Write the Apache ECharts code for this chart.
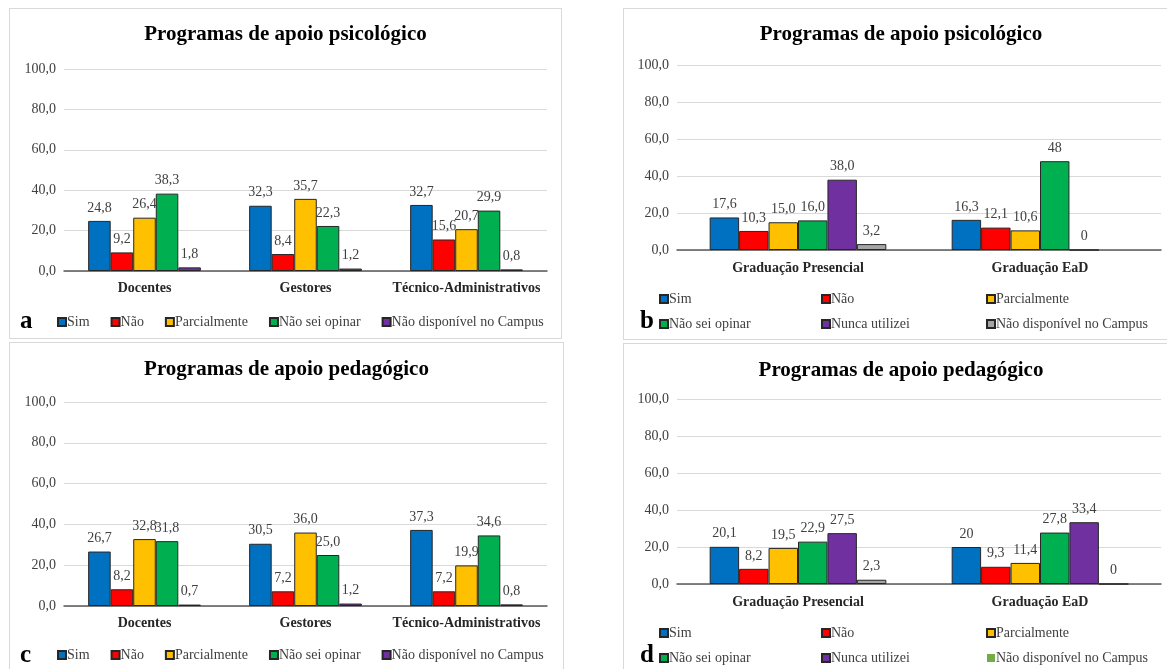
<!DOCTYPE html>
<html>
<head>
<meta charset="utf-8">
<script src="https://cdn.jsdelivr.net/npm/echarts@6/dist/echarts.min.js"></script>
<style>
  html, body { margin: 0; padding: 0; background: #fff; overflow: hidden; width: 1167px; height: 669px; }
  .panel { position: absolute; border: 1px solid #d9d9d9; box-sizing: border-box; background: #fff; }
</style>
</head>
<body>
<div id="pa" class="panel" style="left:9px;top:8px;width:553px;height:331px"></div>
<div id="pb" class="panel" style="left:623px;top:8px;width:556px;height:332px"></div>
<div id="pc" class="panel" style="left:9px;top:342px;width:555px;height:340px"></div>
<div id="pd" class="panel" style="left:623px;top:343px;width:556px;height:340px"></div>
<script>
const FONT = '"Liberation Serif", "Times New Roman", serif'

// categorias
const staffCats = ['Docentes', 'Gestores', 'Técnico-Administrativos']
const courseCats = ['Graduação Presencial', 'Graduação EaD']
const yTicks = [0, 20, 40, 60, 80, 100]

// a - apoio psicológico (servidores)
const aSim = ['24.8', '32.3', '32.7']
const aNao = ['9.2', '8.4', '15.6']
const aParc = ['26.4', '35.7', '20.7']
const aNso = ['38.3', '22.3', '29.9']
const aNdisp = ['1.8', '1.2', '0.8']

// b - apoio psicológico (alunos)
const bSim = ['17.6', '16.3']
const bNao = ['10.3', '12.1']
const bParc = ['15.0', '10.6']
const bNso = ['16.0', '48']
const bNunca = ['38.0', '0']
const bNdisp = ['3.2', '-']

// c - apoio pedagógico (servidores)
const cSim = ['26.7', '30.5', '37.3']
const cNao = ['8.2', '7.2', '7.2']
const cParc = ['32.8', '36.0', '19.9']
const cNso = ['31.8', '25.0', '34.6']
const cNdisp = ['0.7', '1.2', '0.8']

// d - apoio pedagógico (alunos)
const dSim = ['20.1', '20']
const dNao = ['8.2', '9.3']
const dParc = ['19.5', '11.4']
const dNso = ['22.9', '27.8']
const dNunca = ['27.5', '33.4']
const dNdisp = ['2.3', '0']

const BLUE = '#0070C0', RED = '#FF0000', YELLOW = '#FFC000', GREEN = '#00B050'
const PURPLE = '#7030A0', GREY = '#A5A5A5', LIGHTGREEN = '#70AD47'

function barSeries(name, values, color, gap, override) {
  return {
    name,
    type: 'bar',
    barGap: 0,
    barCategoryGap: gap,
    data: override
      ? values.map(v => ({ value: v, itemStyle: override }))
      : values,
    itemStyle: { color, borderColor: '#262626', borderWidth: override ? 0 : 1 },
    label: {
      show: true,
      position: 'top',
      distance: 6,
      fontFamily: FONT,
      fontSize: 14,
      color: '#404040',
      formatter: p => {
        const raw = (p.data && typeof p.data === 'object') ? p.data.value : p.data
        return String(raw).replace('.', ',')
      }
    }
  }
}

function buildChart(id, cfg) {
  const chart = echarts.init(document.getElementById(id))
  chart.setOption({
    animation: false,
    title: {
      text: cfg.title,
      left: 'center',
      top: cfg.titleTop,
      textStyle: { fontFamily: FONT, fontSize: 21, fontWeight: 'bold', color: '#000' }
    },
    legend: cfg.legend,
    grid: cfg.grid,
    xAxis: {
      type: 'category',
      data: cfg.cats,
      axisLine: { lineStyle: { color: '#595959', width: 1.5 } },
      axisTick: { show: false },
      axisLabel: { interval: 0, fontFamily: FONT, fontSize: 14, fontWeight: 'bold', color: '#262626', margin: cfg.xMargin }
    },
    yAxis: {
      type: 'value',
      min: yTicks[0],
      max: yTicks[yTicks.length - 1],
      interval: yTicks[1] - yTicks[0],
      axisLine: { show: false },
      axisTick: { show: false },
      axisLabel: { fontFamily: FONT, fontSize: 14, color: '#404040', margin: 8, formatter: v => v.toFixed(1).replace('.', ',') },
      splitLine: { lineStyle: { color: '#d9d9d9', width: 1 } }
    },
    graphic: [{
      type: 'text',
      left: cfg.letter[0],
      top: cfg.letter[1],
      style: { text: cfg.letterText, font: 'bold 25px ' + FONT, fill: '#000' }
    }],
    series: cfg.series
  })
  return chart
}

function rowLegend(top, names) {
  return {
    left: 42,
    top,
    itemWidth: 8,
    itemHeight: 8,
    itemGap: 21,
    icon: 'rect',
    data: names,
    textStyle: { fontFamily: FONT, fontSize: 14, color: '#404040', padding: [0, 0, 0, -4] }
  }
}

function colLegends(top, cols) {
  return cols.map(([left, names]) => ({
    left,
    top,
    orient: 'vertical',
    itemWidth: 8,
    itemHeight: 8,
    itemGap: 11,
    icon: 'rect',
    data: names,
    textStyle: { fontFamily: FONT, fontSize: 14, color: '#404040', padding: [0, 0, 0, -4] }
  }))
}

const staffNames = ['Sim', 'Não', 'Parcialmente', 'Não sei opinar', 'Não disponível no Campus']

buildChart('pa', {
  title: 'Programas de apoio psicológico',
  titleTop: 10,
  cats: staffCats,
  grid: { left: 54, right: 14, top: 60, bottom: 67 },
  xMargin: 10,
  legend: rowLegend(301, staffNames),
  letter: [10, 300],
  letterText: 'a',
  series: [
    barSeries('Sim', aSim, BLUE, '30%'),
    barSeries('Não', aNao, RED, '30%'),
    barSeries('Parcialmente', aParc, YELLOW, '30%'),
    barSeries('Não sei opinar', aNso, GREEN, '30%'),
    barSeries('Não disponível no Campus', aNdisp, PURPLE, '30%')
  ]
})

buildChart('pb', {
  title: 'Programas de apoio psicológico',
  titleTop: 10,
  cats: courseCats,
  grid: { left: 53, right: 17, top: 56, bottom: 89 },
  xMargin: 11,
  legend: colLegends(278, [
    [30, ['Sim', 'Não sei opinar']],
    [192, ['Não', 'Nunca utilizei']],
    [357, ['Parcialmente', 'Não disponível no Campus']]
  ]),
  letter: [16, 300],
  letterText: 'b',
  series: [
    barSeries('Sim', bSim, BLUE, '27%'),
    barSeries('Não', bNao, RED, '27%'),
    barSeries('Parcialmente', bParc, YELLOW, '27%'),
    barSeries('Não sei opinar', bNso, GREEN, '27%'),
    barSeries('Nunca utilizei', bNunca, PURPLE, '27%'),
    barSeries('Não disponível no Campus', bNdisp, GREY, '27%')
  ]
})

buildChart('pc', {
  title: 'Programas de apoio pedagógico',
  titleTop: 11,
  cats: staffCats,
  grid: { left: 54, right: 16, top: 59, bottom: 75 },
  xMargin: 10,
  legend: rowLegend(300, staffNames),
  letter: [10, 300],
  letterText: 'c',
  series: [
    barSeries('Sim', cSim, BLUE, '30%'),
    barSeries('Não', cNao, RED, '30%'),
    barSeries('Parcialmente', cParc, YELLOW, '30%'),
    barSeries('Não sei opinar', cNso, GREEN, '30%'),
    barSeries('Não disponível no Campus', cNdisp, PURPLE, '30%')
  ]
})

buildChart('pd', {
  title: 'Programas de apoio pedagógico',
  titleTop: 11,
  cats: courseCats,
  grid: { left: 53, right: 17, top: 55, bottom: 98 },
  xMargin: 11,
  legend: colLegends(277, [
    [30, ['Sim', 'Não sei opinar']],
    [192, ['Não', 'Nunca utilizei']],
    [357, ['Parcialmente', 'Não disponível no Campus']]
  ]),
  letter: [16, 299],
  letterText: 'd',
  series: [
    barSeries('Sim', dSim, BLUE, '27%'),
    barSeries('Não', dNao, RED, '27%'),
    barSeries('Parcialmente', dParc, YELLOW, '27%'),
    barSeries('Não sei opinar', dNso, GREEN, '27%'),
    barSeries('Nunca utilizei', dNunca, PURPLE, '27%'),
    barSeries('Não disponível no Campus', dNdisp, LIGHTGREEN, '27%',
      { color: GREY, borderColor: '#262626', borderWidth: 1 })
  ]
})
</script>
</body>
</html>
